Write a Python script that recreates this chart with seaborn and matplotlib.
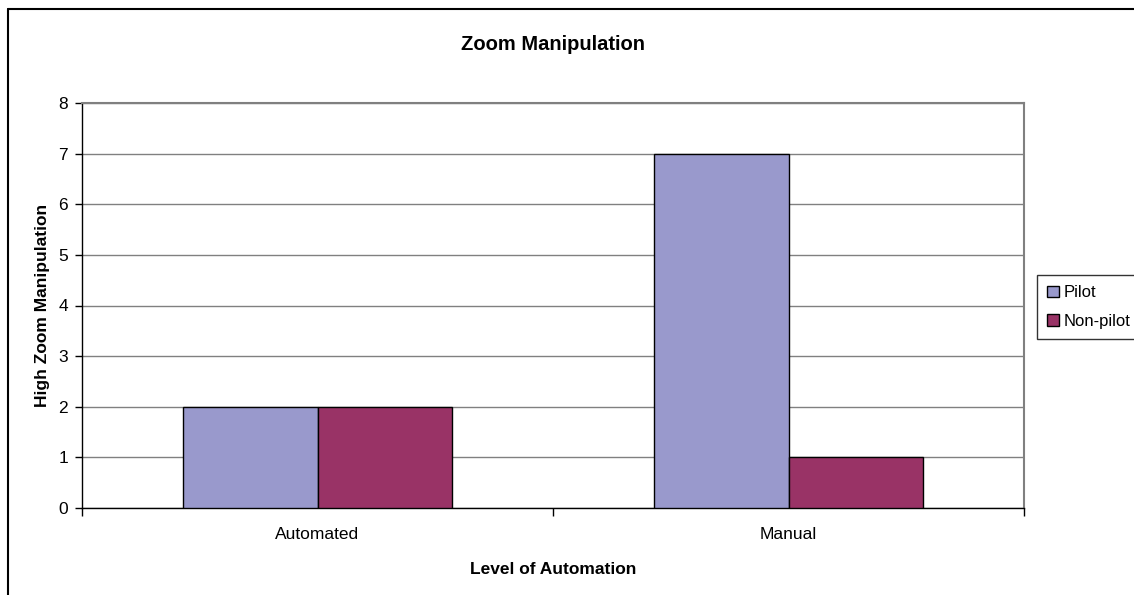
import matplotlib
matplotlib.use("Agg")
import matplotlib.pyplot as plt
import seaborn as sns
import pandas as pd
from matplotlib.lines import Line2D

# data
levels = ["Automated", "Manual"]
groups = ["Pilot", "Non-pilot"]
pilot = [2, 7]
non_pilot = [2, 1]
colors = ["#9999CC", "#993366"]

df = pd.DataFrame({
    "level": levels * 2,
    "group": [groups[0]] * 2 + [groups[1]] * 2,
    "value": pilot + non_pilot,
})

sns.set_theme(style="white")
plt.rcParams["font.family"] = ["Liberation Sans", "DejaVu Sans"]
plt.rcParams["text.color"] = "black"
plt.rcParams["axes.labelcolor"] = "black"
plt.rcParams["xtick.color"] = "black"
plt.rcParams["ytick.color"] = "black"

fig = plt.figure(figsize=(11.34, 5.95), dpi=100)
ax = fig.add_axes([82 / 1134, 1 - 508 / 595, (1024 - 82) / 1134, (508 - 103) / 595])

sns.barplot(data=df, x="level", y="value", hue="group", order=levels,
            hue_order=groups, palette=colors, width=0.573, gap=0,
            edgecolor="black", linewidth=1, saturation=1, ax=ax, zorder=3)

ax.set_xlim(-0.5, 1.5)
ax.set_ylim(0, 8)
ax.set_yticks(range(0, 9))
ax.yaxis.grid(True, color="#808080", lw=1, zorder=0)
ax.set_axisbelow(True)

ax.tick_params(axis="y", length=5, width=1, color="black", direction="out",
               labelsize=12.5, pad=5, left=True)
ax.set_xticks([-0.5, 0.5, 1.5], minor=True)
ax.tick_params(axis="x", which="minor", length=6, width=1, color="black",
               direction="out", bottom=True)
ax.tick_params(axis="x", which="major", length=0, labelsize=12.5, pad=14)

for s in ["left", "bottom"]:
    ax.spines[s].set_color("black")
    ax.spines[s].set_linewidth(1)
for s in ["top", "right"]:
    ax.spines[s].set_color("#808080")
    ax.spines[s].set_linewidth(1.5)

ax.set_xlabel("Level of Automation", fontsize=12.5, fontweight="bold", labelpad=14)
ax.set_ylabel("High Zoom Manipulation", fontsize=12.5, fontweight="bold", labelpad=6)
fig.text(553 / 1134, 1 - 45 / 595, "Zoom Manipulation", ha="center", va="center",
         fontsize=14.5, fontweight="bold")

ax.legend_.remove()
handles, labels = ax.get_legend_handles_labels()
leg = fig.legend(handles, labels, loc="center left",
                 bbox_to_anchor=(1037 / 1134, 1 - 307 / 595),
                 fontsize=12, frameon=True, fancybox=False, handlelength=0.7,
                 handleheight=0.7, handletextpad=0.3, borderpad=0.6,
                 labelspacing=0.8, borderaxespad=0)
leg.get_frame().set_edgecolor("black")
leg.get_frame().set_linewidth(1)
for h in leg.legend_handles:
    h.set_edgecolor("black")

# outer chart frame (left and top edges visible)
fig.add_artist(Line2D([8 / 1134, 8 / 1134], [0, 1 - 9 / 595], color="black", lw=1.5))
fig.add_artist(Line2D([8 / 1134, 1], [1 - 9 / 595, 1 - 9 / 595], color="black", lw=1.5))

fig.savefig("out.png", dpi=100, facecolor="white")
